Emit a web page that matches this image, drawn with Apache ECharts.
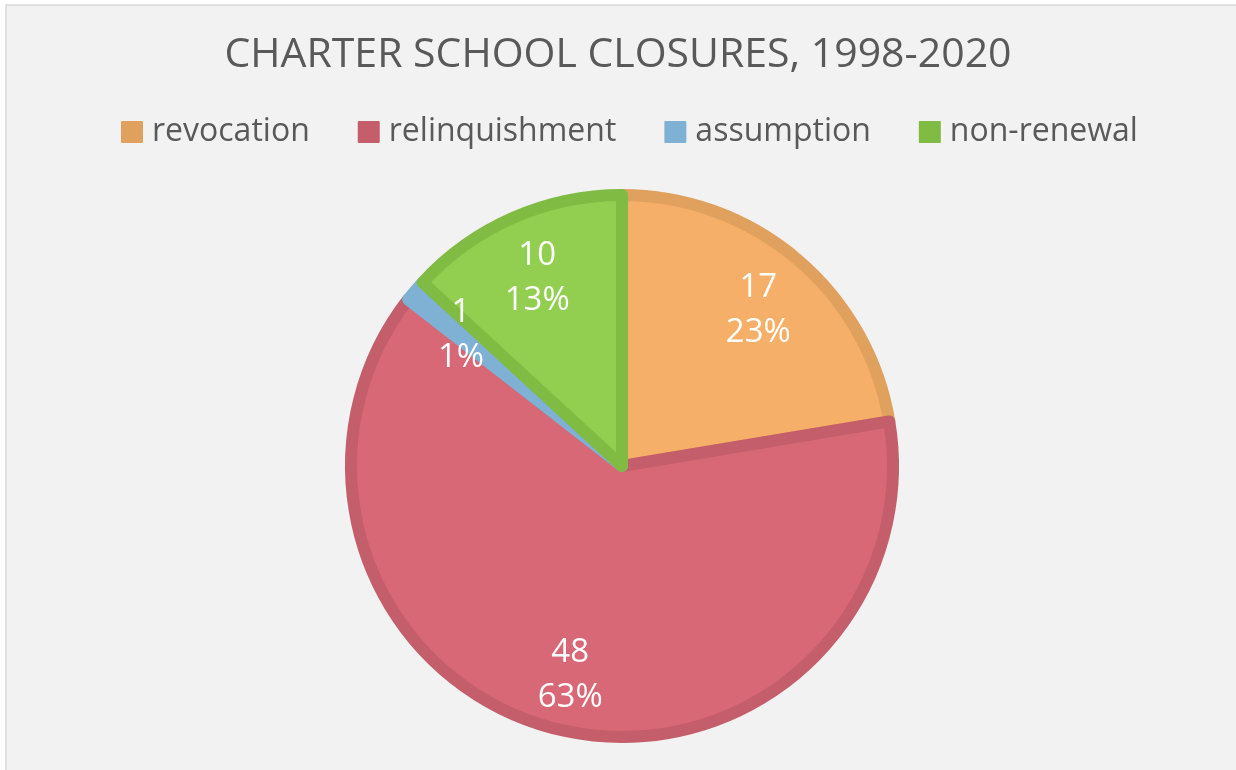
<!DOCTYPE html>
<html>
<head>
<meta charset="utf-8">
<title>Charter School Closures</title>
<script src="https://cdn.jsdelivr.net/npm/echarts@6/dist/echarts.min.js"></script>
<style>
  html, body { margin: 0; padding: 0; background: #fff; }
  #main { width: 1236px; height: 770px; }
</style>
</head>
<body>
<div id="main"></div>
<script>
// data
var categories = ['revocation', 'relinquishment', 'assumption', 'non-renewal'];
var closures = [17, 48, 1, 10];
var fillColors = ['#F5AF69', '#D86875', '#7EB1D3', '#92CF50'];
var edgeColors = ['#E0A05E', '#C45E6A', '#7EB1D3', '#80BB44'];

var font = '"Open Sans", "Noto Sans", sans-serif';
var R = 277;

var myChart = echarts.init(document.getElementById('main'));

var pieData = categories.map(function (name, i) {
    return {
        name: name,
        value: closures[i],
        itemStyle: { color: fillColors[i], borderColor: edgeColors[i] }
    };
});
var labelData = categories.map(function (name, i) {
    return { name: name, value: closures[i] };
});
var legendData = categories.map(function (name, i) {
    return { name: name, itemStyle: { color: edgeColors[i] } };
});

var option = {
    backgroundColor: '#fff',
    animation: false,
    graphic: [{
        type: 'rect',
        z: -10,
        silent: true,
        shape: { x: 6, y: 5, width: 1240, height: 780 },
        style: { fill: '#F2F2F2', stroke: '#D9D9D9', lineWidth: 1.5 }
    }],
    title: {
        text: 'CHARTER SCHOOL CLOSURES, 1998-2020',
        left: 'center',
        top: 30,
        textStyle: { fontFamily: font, fontSize: 41, fontWeight: 'normal', color: '#595959' }
    },
    legend: {
        data: legendData,
        left: 116,
        top: 111,
        icon: 'rect',
        itemWidth: 20,
        itemHeight: 20,
        itemGap: 48,
        textStyle: { fontFamily: font, fontSize: 32, color: '#595959', padding: [0, 0, 0, 5] }
    },
    series: [
        {
            name: 'closures',
            type: 'pie',
            center: [622, 466],
            radius: R - 6,
            startAngle: 90,
            clockwise: true,
            silent: true,
            itemStyle: { borderWidth: 12 },
            label: { show: false },
            labelLine: { show: false },
            data: pieData
        },
        {
            // transparent copy only to carry the labels a bit further out
            name: 'labels',
            type: 'pie',
            center: [622, 466],
            radius: [Math.round(R * 0.5), R],
            startAngle: 90,
            clockwise: true,
            silent: true,
            percentPrecision: 0,
            avoidLabelOverlap: false,
            itemStyle: { color: 'rgba(0,0,0,0)', borderWidth: 0 },
            label: {
                show: true,
                position: 'inside',
                offset: [0, 5],
                formatter: '{c}\n{d}%',
                fontFamily: font,
                fontSize: 33,
                lineHeight: 45,
                color: '#fff'
            },
            labelLine: { show: false },
            data: labelData
        }
    ]
};
myChart.setOption(option);
</script>
</body>
</html>
